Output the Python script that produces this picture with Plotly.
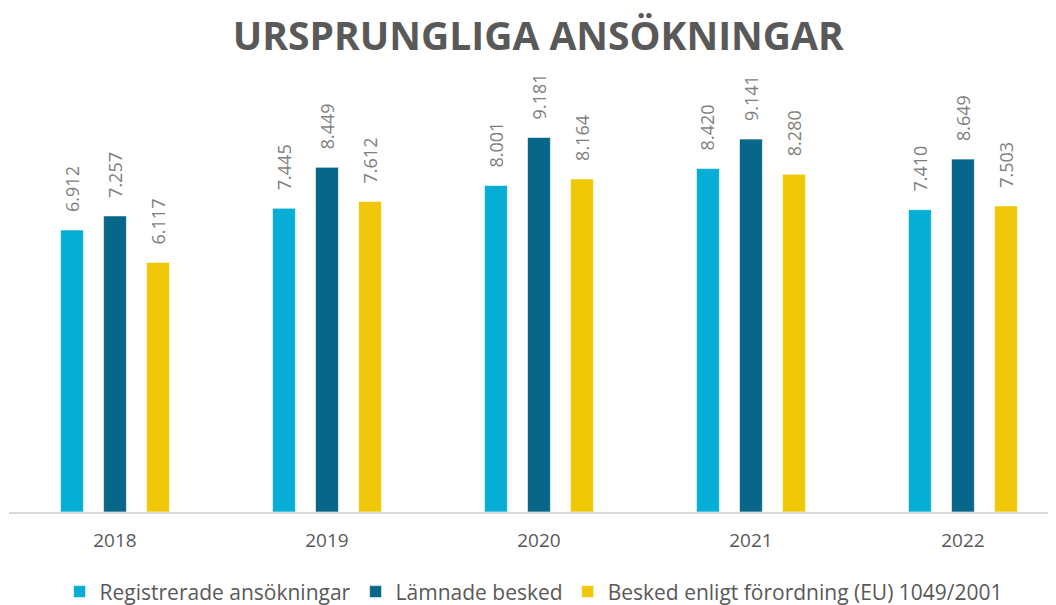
import plotly.graph_objects as go

years = ["2018", "2019", "2020", "2021", "2022"]
registrerade = [6912, 7445, 8001, 8420, 7410]
lamnade = [7257, 8449, 9181, 9141, 8649]
besked_eu = [6117, 7612, 8164, 8280, 7503]

series = [
    ("Registrerade ansökningar", registrerade, "#06AED5"),
    ("Lämnade besked", lamnade, "#086788"),
    ("Besked enligt förordning (EU) 1049/2001", besked_eu, "#F0C808"),
]

BARGAP = 0.391
slot = (1 - BARGAP) / len(series)

def fmt(v):
    return f"{v:,}".replace(",", ".")

fig = go.Figure()
annotations = []
for j, (name, vals, col) in enumerate(series):
    fig.add_trace(go.Bar(
        x=years, y=vals, name=name,
        marker=dict(color=col, line=dict(color="rgba(255,255,255,0.6)", width=1)),
    ))
    for i, v in enumerate(vals):
        annotations.append(dict(
            x=i + (j - 1) * slot, y=v, xref="x", yref="y",
            text=fmt(v), showarrow=False, textangle=-90,
            xanchor="center", yanchor="bottom", yshift=16,
            font=dict(family="Open Sans", size=18, color="#7F7F7F"),
        ))

fig.update_layout(
    width=1048, height=597,
    margin=dict(l=1, r=0, t=95.5, b=93, autoexpand=False),
    paper_bgcolor="white", plot_bgcolor="white",
    barmode="group", bargap=BARGAP, bargroupgap=0.468,
    title=dict(text="<b>URSPRUNGLIGA ANSÖKNINGAR</b>", x=0.506, xanchor="center",
               y=0.953, yanchor="middle",
               font=dict(family="Open Sans", size=39, color="#595959")),
    xaxis=dict(range=[-0.5, 4.439], showline=True, linecolor="#D9D9D9", linewidth=1.5,
               ticks="", showgrid=False, ticklabelstandoff=10,
               tickfont=dict(family="Open Sans", size=19, color="#595959")),
    yaxis=dict(range=[0, 10000], visible=False, showgrid=False),
    legend=dict(orientation="h", x=0.5015, xanchor="center",
                y=-0.196, yanchor="middle",
                font=dict(family="Open Sans", size=21, color="#595959"),
                itemwidth=30, tracegroupgap=0),
    annotations=annotations,
    showlegend=True,
)
fig.write_html("out.html")
